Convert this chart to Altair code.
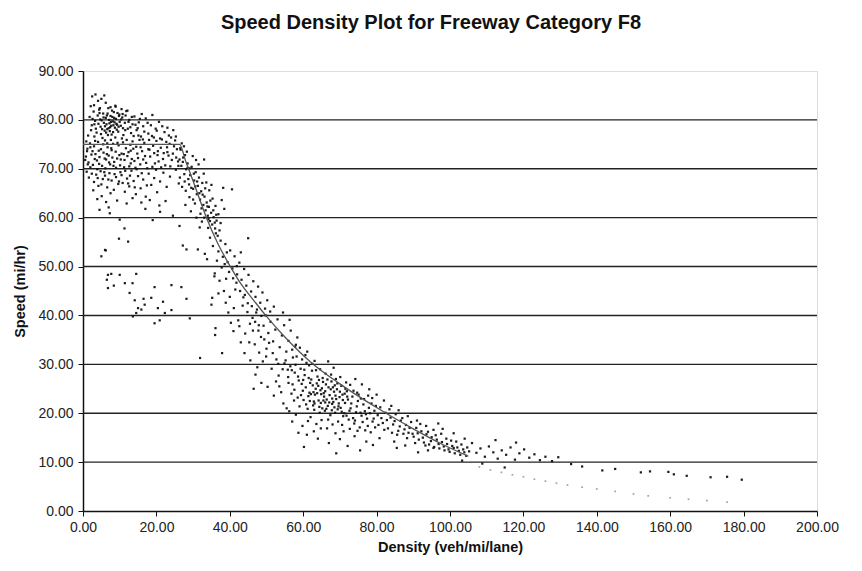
import altair as alt
import pandas as pd

TITLE = "Speed Density Plot for Freeway Category F8"
X_TITLE = "Density (veh/mi/lane)"
Y_TITLE = "Speed (mi/hr)"
x_ticks = [0, 20, 40, 60, 80, 100, 120, 140, 160, 180, 200]
y_ticks = [0, 10, 20, 30, 40, 50, 60, 70, 80, 90]
grid_speeds = [10, 20, 30, 40, 50, 60, 70, 80]

free_flow_top = [
    (2.5, 84.8), (3.4, 85.2), (4.1, 83.9), (5.0, 84.3), (6.2, 83.5), (3.0, 83.0), (7.5, 82.6),
    (4.6, 82.4), (8.8, 82.9), (10.5, 82.2), (12.1, 81.9), (5.8, 85.0), (2.1, 82.8),
]
free_flow_upper = [
    (1.8, 80.6), (2.4, 78.9), (2.9, 81.7), (3.3, 79.8), (3.7, 77.4), (4.0, 80.9), (4.4, 82.1),
    (4.8, 78.6), (5.1, 79.9), (5.5, 81.3), (5.9, 77.8), (6.2, 80.4), (6.6, 78.1), (6.9, 82.4),
    (7.2, 79.3), (7.5, 80.8), (7.8, 77.0), (8.1, 79.7), (8.4, 81.6), (8.7, 78.4), (9.0, 80.2),
    (9.3, 79.0), (9.6, 77.6), (9.9, 81.1), (10.3, 78.8), (10.7, 80.5), (11.0, 76.9), (11.4, 79.4),
    (11.8, 81.8), (12.2, 78.2), (12.6, 80.0), (13.1, 77.3), (13.5, 79.1), (14.0, 80.7), (14.6, 77.9),
    (15.2, 79.5), (15.8, 76.6), (16.4, 78.7), (17.1, 80.3), (17.8, 77.2), (18.5, 78.9), (19.3, 76.4),
    (20.1, 77.8), (21.0, 76.2), (22.2, 77.5), (23.4, 76.8), (24.6, 77.9), (3.1, 76.6), (2.2, 77.9),
    (5.3, 76.3), (6.8, 76.9), (7.9, 81.9), (8.9, 82.7), (6.4, 79.1), (7.0, 78.3), (7.6, 79.6),
    (8.3, 78.9), (9.2, 78.0), (4.7, 80.1), (5.7, 79.4), (10.0, 79.6), (10.9, 78.3), (11.6, 80.9),
    (12.9, 78.5), (2.6, 80.2), (3.5, 78.2), (14.9, 78.3), (16.0, 81.2), (18.9, 81.0), (20.7, 79.6),
    (13.8, 76.7), (6.0, 78.7), (6.5, 80.9), (7.3, 77.7), (7.7, 78.8), (8.0, 80.6), (8.6, 79.5),
    (9.4, 81.4), (9.7, 78.6), (10.4, 80.1), (8.2, 77.5), (6.3, 77.4), (7.1, 80.0), (5.2, 78.1),
    (4.2, 79.2), (3.1, 79.1), (4.5, 81.4), (5.6, 80.5), (6.7, 81.3), (7.4, 78.5), (8.5, 80.4),
    (9.1, 79.2), (9.8, 80.8), (10.8, 81.2), (11.5, 77.9), (12.4, 79.6), (13.3, 80.6), (14.3, 79.0),
    (15.5, 80.2), (16.7, 77.6), (17.6, 79.4), (19.8, 78.2), (21.6, 78.7), (23.0, 78.4), (25.3, 76.6),
]
free_flow_middle = [
    (0.8, 72.5), (1.2, 74.1), (1.5, 71.3), (1.9, 75.2), (2.3, 72.9), (2.7, 70.8), (3.0, 74.6),
    (3.4, 73.0), (3.8, 71.7), (4.1, 75.5), (4.5, 72.4), (4.9, 74.0), (5.2, 70.6), (5.6, 73.3),
    (6.0, 75.8), (6.3, 71.9), (6.7, 74.4), (7.0, 72.7), (7.4, 70.9), (7.8, 73.8), (8.2, 75.1),
    (8.5, 71.4), (8.9, 73.5), (9.3, 72.1), (9.7, 74.8), (10.1, 70.7), (10.5, 73.1), (10.9, 75.4),
    (11.3, 71.8), (11.7, 74.2), (12.1, 72.6), (12.6, 70.5), (13.0, 73.7), (13.5, 75.6), (14.0, 71.6),
    (14.5, 74.5), (15.0, 72.2), (15.6, 70.9), (16.1, 73.6), (16.7, 75.3), (17.2, 71.2), (17.8, 74.0),
    (18.3, 72.5), (18.9, 70.4), (19.4, 73.2), (20.0, 75.7), (20.6, 71.5), (21.2, 74.3), (21.8, 72.0),
    (22.4, 70.7), (23.0, 73.4), (23.6, 75.1), (24.2, 71.8), (24.8, 74.6), (25.4, 72.3), (26.0, 70.6),
    (26.6, 73.9), (27.2, 71.4), (27.8, 72.8), (28.5, 70.2), (2.0, 70.3), (5.9, 72.1), (7.6, 75.9),
    (9.0, 70.2), (11.1, 73.0), (12.9, 74.9), (14.8, 73.1), (16.4, 71.9), (19.1, 74.7), (21.5, 76.0),
    (23.3, 72.7), (25.1, 75.8), (26.9, 75.2), (24.0, 76.4), (22.7, 75.5), (20.3, 72.8), (18.0, 75.9),
    (15.4, 75.9), (13.3, 72.0), (10.3, 71.9), (8.0, 72.3), (4.3, 73.7), (3.2, 72.0), (6.5, 73.0),
    (1.1, 73.6), (1.4, 76.8), (2.0, 74.4), (2.6, 73.6), (3.3, 75.7), (3.9, 69.9), (4.4, 71.0),
    (4.9, 77.1), (5.5, 75.0), (6.1, 70.1), (6.6, 75.2), (7.1, 71.3), (7.7, 74.2), (8.3, 70.6),
    (8.8, 76.4), (9.4, 75.3), (9.9, 72.8), (10.6, 76.2), (11.2, 70.3), (11.9, 75.9), (12.4, 73.4),
    (13.0, 71.1), (13.7, 74.1), (14.3, 70.2), (15.1, 76.8), (15.7, 74.4), (16.3, 76.0), (16.9, 72.6),
    (17.5, 70.1), (18.1, 73.9), (18.8, 76.7), (19.6, 71.1), (20.4, 73.6), (21.3, 70.3), (22.0, 73.2),
    (22.9, 74.4), (23.8, 70.5), (24.5, 73.1), (25.6, 74.0), (26.3, 71.9), (27.5, 74.6), (1.3, 70.9),
    (0.9, 75.6), (0.6, 71.8),
]
free_flow_lower = [
    (1.0, 69.4), (1.6, 68.2), (2.4, 69.0), (3.0, 67.3), (3.6, 68.8), (4.2, 66.5), (4.8, 69.5),
    (5.4, 67.9), (6.0, 68.6), (6.6, 66.2), (7.2, 69.1), (7.8, 67.6), (8.4, 65.7), (9.0, 68.3),
    (9.6, 66.9), (10.2, 69.3), (10.8, 67.1), (11.4, 65.3), (12.0, 68.0), (12.6, 66.4), (13.2, 69.6),
    (13.8, 67.5), (14.4, 64.8), (15.0, 68.5), (15.7, 66.0), (16.4, 67.8), (17.1, 64.3), (17.9, 69.0),
    (18.6, 66.7), (19.4, 68.1), (20.2, 65.2), (21.0, 67.4), (21.9, 69.2), (22.8, 66.3), (23.7, 68.4),
    (5.1, 64.4), (6.3, 63.2), (7.5, 65.0), (3.9, 63.8), (9.3, 63.5), (11.9, 62.9), (13.5, 64.0),
    (15.9, 63.1), (2.8, 65.6), (4.5, 61.6), (7.0, 62.1), (18.2, 63.6), (20.8, 62.5), (12.3, 67.0),
    (14.1, 66.2), (10.5, 68.7), (4.0, 68.1), (5.0, 66.8), (5.8, 69.3), (6.9, 67.8), (8.6, 68.9),
    (9.8, 67.4), (11.5, 69.6), (12.8, 68.6), (14.6, 69.9), (16.0, 69.1), (17.4, 66.6), (19.9, 69.8),
]
breakdown = [
    (25.3, 69.8), (25.9, 71.5), (26.4, 68.2), (26.8, 70.6), (27.3, 72.3), (27.7, 67.4), (28.1, 69.9),
    (28.5, 71.1), (28.9, 66.8), (29.2, 68.7), (29.6, 70.4), (30.0, 65.9), (30.3, 67.6), (30.7, 69.3),
    (31.0, 64.8), (31.3, 66.5), (31.6, 68.2), (31.9, 63.7), (32.2, 65.4), (32.5, 67.1), (32.8, 62.6),
    (33.1, 64.3), (33.4, 61.5), (33.7, 63.1), (34.0, 60.4), (34.3, 62.2), (34.6, 59.3), (34.9, 61.0),
    (35.2, 58.6), (35.6, 60.1), (36.0, 57.8), (36.4, 59.4), (29.0, 64.2), (30.5, 62.9), (32.0, 60.8),
    (28.0, 65.5), (27.0, 66.3), (26.1, 67.0), (31.5, 70.9), (32.9, 69.0), (33.6, 67.2), (34.4, 65.6),
    (35.3, 63.9), (36.1, 62.4), (36.9, 60.7), (37.5, 58.9), (29.9, 72.6), (30.8, 71.8), (28.3, 73.5),
    (26.5, 74.2), (33.0, 71.9), (35.0, 66.7), (37.8, 63.6), (38.5, 61.8), (34.1, 57.9), (32.4, 59.2),
    (30.9, 60.0), (36.7, 56.3), (27.9, 62.6), (29.4, 61.3), (40.6, 65.8), (38.2, 66.1), (31.8, 58.0),
    (27.6, 68.9), (28.7, 67.9), (29.5, 66.1), (30.2, 69.0), (31.1, 67.4), (31.7, 65.0), (32.6, 64.7),
    (33.3, 66.0), (33.9, 62.3), (34.7, 63.5), (35.5, 61.5), (36.3, 60.6), (30.0, 63.7), (32.3, 61.9),
    (34.2, 59.7), (35.9, 59.0), (37.2, 57.4), (29.0, 70.1), (30.6, 66.4), (33.0, 60.0),
]
low_speed_outliers = [
    (7.3, 60.9), (10.0, 59.6), (11.3, 57.8), (9.8, 55.7), (6.2, 53.3), (5.0, 52.1), (27.2, 54.3),
    (28.2, 53.5), (31.3, 53.5), (33.2, 52.6), (33.8, 51.5), (6.8, 48.3), (7.7, 48.5), (10.0, 48.3),
    (14.5, 48.5), (6.5, 47.3), (6.8, 45.6), (8.4, 46.1), (11.4, 46.6), (13.5, 46.6), (12.7, 44.6),
    (14.1, 43.1), (15.0, 41.5), (15.9, 41.2), (16.8, 42.2), (14.5, 40.5), (13.6, 39.8), (16.5, 43.4),
    (18.6, 43.6), (19.5, 45.8), (21.8, 42.8), (24.1, 46.2), (26.8, 45.8), (28.2, 43.4), (24.1, 41.1),
    (22.3, 40.5), (20.4, 41.5), (19.5, 38.4), (20.9, 39.0), (29.1, 39.4), (36.1, 37.4), (35.0, 42.2),
    (35.2, 43.6), (35.9, 48.6), (6.0, 53.4), (12.3, 55.1), (21.0, 61.2), (24.5, 60.4), (26.3, 58.3),
    (19.0, 59.5), (17.0, 61.8), (22.5, 63.4), (31.9, 31.3), (37.9, 32.3), (36.0, 36.0),
]
transition = [
    (34.6, 55.9), (35.4, 54.2), (36.2, 56.8), (36.9, 53.1), (37.5, 55.3), (38.1, 52.0), (38.8, 54.6),
    (39.4, 50.9), (40.1, 53.3), (40.7, 49.6), (41.3, 52.1), (42.0, 48.4), (42.6, 50.8), (43.2, 47.3),
    (43.9, 49.5), (44.5, 46.1), (45.1, 48.3), (45.8, 44.9), (46.4, 47.0), (47.0, 43.8), (47.7, 45.9),
    (48.3, 42.6), (48.9, 44.7), (49.6, 41.4), (45.0, 55.8), (43.0, 52.9), (39.0, 47.5), (37.8, 49.8),
    (36.5, 51.2), (41.5, 45.3), (40.0, 43.8), (43.5, 42.0), (44.8, 40.7), (46.2, 39.5), (42.3, 39.0),
    (39.6, 40.6), (47.4, 41.2), (48.6, 39.9), (50.2, 43.1), (51.0, 40.8), (44.1, 44.2), (38.4, 45.0),
    (35.8, 48.0), (36.9, 44.5), (41.0, 36.8), (45.5, 38.3), (46.3, 36.9), (47.2, 40.6), (47.9, 38.0),
    (48.5, 35.6), (49.2, 37.9), (49.8, 40.0), (50.5, 36.4), (51.1, 38.7), (51.8, 34.7), (52.4, 37.1),
    (53.0, 39.2), (53.6, 33.5), (54.2, 35.9), (54.8, 38.0), (55.4, 32.6), (56.0, 34.8), (56.6, 36.9),
    (57.2, 31.4), (57.8, 33.6), (58.4, 35.5), (50.0, 33.2), (48.0, 32.4), (46.8, 34.1), (52.7, 31.0),
    (54.9, 30.2), (51.4, 29.1), (49.0, 30.6), (55.8, 28.9), (53.3, 27.7), (44.2, 36.3), (43.0, 34.5),
    (47.5, 29.4), (52.0, 41.8), (54.5, 40.6), (56.3, 39.1), (44.0, 32.3), (45.6, 30.8), (47.0, 27.9),
    (48.6, 26.2), (50.3, 25.4), (52.0, 23.6), (46.5, 25.0), (38.6, 50.5), (39.8, 48.9), (40.9, 47.6),
    (41.8, 46.7), (42.8, 45.0), (43.7, 43.7), (44.9, 42.5), (46.0, 41.9), (46.9, 38.7), (47.8, 36.9),
    (49.4, 35.1), (50.7, 34.4), (51.7, 32.3), (53.2, 30.1), (54.4, 29.0), (49.9, 31.6), (45.3, 34.5),
    (42.6, 37.8), (41.1, 41.5), (40.3, 38.5), (38.9, 42.6), (37.2, 47.1), (39.2, 52.9), (41.9, 50.1),
]
congested = [
    (55.2, 30.8), (55.9, 27.4), (56.5, 29.6), (57.1, 25.9), (57.7, 28.3), (58.2, 31.6), (58.8, 26.7),
    (59.3, 29.1), (59.9, 24.6), (60.4, 27.8), (60.9, 30.3), (61.4, 23.5), (61.9, 26.2), (62.4, 28.7),
    (62.9, 22.4), (63.4, 25.0), (63.9, 27.5), (64.4, 21.3), (64.9, 23.9), (65.4, 26.4), (65.9, 20.5),
    (66.4, 22.8), (66.9, 25.3), (67.4, 19.6), (67.9, 21.9), (68.4, 24.4), (68.9, 27.0), (69.4, 20.8),
    (69.9, 23.3), (70.4, 25.6), (70.9, 19.4), (71.4, 22.1), (71.9, 24.5), (72.4, 18.7), (72.9, 21.0),
    (73.4, 23.4), (73.9, 17.9), (74.4, 20.2), (74.9, 22.5), (75.4, 17.1), (75.9, 19.5), (76.4, 21.8),
    (76.9, 16.5), (77.4, 18.9), (77.9, 21.1), (78.4, 16.1), (78.9, 18.3), (79.4, 20.5), (58.5, 23.2),
    (59.0, 21.4), (59.6, 26.0), (60.1, 22.7), (60.7, 25.3), (61.2, 20.9), (61.7, 24.2), (62.2, 26.9),
    (62.7, 21.6), (63.2, 23.8), (63.7, 26.1), (64.2, 22.6), (64.7, 24.7), (65.2, 21.0), (65.7, 23.4),
    (66.2, 25.9), (66.7, 21.5), (67.2, 23.7), (67.7, 26.5), (68.2, 22.3), (68.7, 20.1), (69.2, 24.9),
    (69.7, 22.0), (70.2, 21.1), (70.7, 23.8), (71.2, 20.0), (71.7, 26.3), (72.2, 22.8), (60.3, 28.9),
    (61.6, 29.8), (63.1, 30.7), (64.6, 29.0), (66.1, 28.1), (67.6, 27.9), (62.0, 19.2), (63.6, 17.8),
    (65.0, 18.6), (66.5, 16.9), (68.0, 17.7), (69.5, 18.3), (71.0, 16.3), (57.5, 22.6), (56.8, 24.0),
    (58.0, 19.7), (59.8, 17.4), (61.0, 15.6), (64.0, 14.8), (67.0, 13.9), (60.2, 13.1), (70.0, 14.7),
    (62.8, 24.3), (64.1, 25.6), (65.6, 24.1), (66.0, 22.2), (64.5, 20.1), (63.0, 20.7), (61.8, 22.5),
    (67.9, 23.0), (69.0, 22.9), (65.3, 27.2), (63.5, 28.8), (62.5, 30.1), (60.6, 31.9), (59.1, 33.4),
    (57.9, 29.9), (68.6, 25.7), (70.1, 27.4), (71.5, 25.0), (72.8, 25.8), (73.6, 19.0), (74.7, 24.2),
    (75.7, 23.0), (76.8, 20.4), (77.7, 23.6), (78.6, 22.0), (79.6, 17.1), (80.3, 19.6), (81.0, 21.2),
    (81.7, 18.0), (82.4, 20.1), (83.1, 16.9), (83.8, 19.1), (84.5, 17.7), (85.2, 19.8), (85.9, 16.4),
    (86.6, 18.5), (87.3, 15.8), (88.0, 17.6), (88.7, 16.0), (89.4, 18.2), (90.1, 15.2), (90.8, 17.0),
    (91.5, 14.6), (92.2, 16.3), (92.9, 14.0), (93.6, 15.7), (94.3, 13.6), (95.0, 15.1), (95.7, 13.1),
    (96.4, 14.6), (97.1, 12.8), (97.8, 14.1), (98.5, 12.4), (99.2, 13.7), (99.9, 12.1), (100.6, 13.3),
    (101.3, 11.8), (102.0, 13.0), (102.8, 11.5), (103.6, 12.6), (104.4, 11.3), (105.2, 12.2),
    (82.0, 22.6), (84.0, 21.5), (86.0, 20.6), (80.0, 23.8), (78.0, 24.9), (76.0, 25.9), (74.2, 27.0),
    (88.5, 19.4), (91.0, 18.5), (93.5, 17.4), (95.5, 16.6), (80.8, 14.9), (77.2, 14.2), (74.0, 15.3),
    (72.1, 13.3), (84.8, 14.2), (87.8, 13.4), (69.0, 11.8), (57.0, 18.3), (55.5, 21.0), (54.0, 24.3),
    (52.6, 26.5), (66.8, 30.6), (68.3, 29.3), (85.5, 12.9), (91.3, 12.0), (79.0, 13.5), (75.5, 12.4),
    (56.0, 26.2), (56.9, 28.8), (57.6, 24.8), (58.6, 27.5), (59.4, 23.7), (60.0, 26.8), (60.8, 21.8),
    (61.5, 27.2), (62.1, 23.9), (62.6, 25.7), (63.1, 22.0), (63.8, 24.1), (64.3, 26.8), (64.8, 22.1),
    (65.1, 25.1), (65.5, 22.6), (66.0, 24.5), (66.3, 20.9), (66.6, 26.9), (67.1, 22.2), (67.5, 24.9),
    (67.8, 20.6), (68.1, 25.3), (68.5, 21.2), (68.8, 23.6), (69.3, 26.1), (69.6, 21.4), (70.0, 24.4),
    (70.5, 20.3), (70.8, 22.7), (71.3, 24.0), (71.8, 19.5), (72.0, 23.4), (72.6, 20.5), (73.1, 22.0),
    (73.7, 24.6), (74.1, 18.5), (74.6, 21.4), (75.1, 23.8), (75.6, 20.1), (76.2, 18.2), (76.6, 22.9),
    (77.1, 19.8), (77.6, 17.4), (78.2, 20.0), (78.8, 23.1), (79.2, 18.9), (79.8, 21.5), (80.5, 17.6),
    (81.3, 19.0), (82.1, 16.6), (82.8, 18.6), (83.5, 20.8), (84.2, 16.0), (84.9, 18.4), (85.6, 15.6),
    (86.3, 17.3), (87.0, 19.0), (87.6, 16.7), (88.3, 14.9), (89.0, 17.0), (89.8, 15.8), (90.5, 13.9),
    (91.2, 15.9), (91.9, 17.8), (92.6, 15.0), (93.3, 13.4), (94.0, 16.2), (94.8, 14.3), (95.5, 12.9),
    (96.1, 15.5), (96.9, 13.7), (97.6, 15.8), (98.3, 13.2), (99.0, 14.8), (99.6, 12.6), (100.3, 14.4),
    (101.0, 12.9), (101.7, 14.2), (102.4, 12.3), (103.1, 13.6), (103.9, 12.0), (104.7, 13.0),
    (61.3, 18.4), (62.9, 16.3), (64.8, 16.9), (66.8, 18.7), (68.8, 15.9), (70.6, 17.6), (72.7, 16.8),
    (74.8, 16.4), (58.7, 16.0), (56.2, 20.4), (54.6, 22.0), (53.5, 25.5), (59.7, 31.0), (61.1, 32.6),
    (57.0, 33.0), (58.0, 34.0),
]
tail = [
    (106.0, 13.9), (107.2, 11.9), (108.3, 12.8), (109.5, 11.1), (110.6, 13.2), (111.8, 12.0),
    (113.0, 10.7), (114.1, 12.4), (115.3, 11.5), (116.5, 13.0), (117.7, 10.5), (118.9, 11.8),
    (120.2, 12.6), (121.6, 10.9), (123.0, 11.6), (124.5, 10.4), (126.0, 11.1), (127.8, 10.2),
    (129.5, 11.0), (112.4, 14.5), (118.0, 14.0), (104.0, 14.8), (101.0, 15.9), (98.0, 16.8),
    (96.8, 17.9), (94.0, 12.4), (108.8, 9.7), (114.9, 8.9), (103.3, 10.3), (133.0, 9.6),
    (136.0, 9.1), (141.5, 8.3), (145.0, 8.6), (152.0, 7.9), (154.5, 8.1), (159.5, 8.0),
    (161.0, 7.5), (164.5, 7.2), (171.0, 6.9), (175.5, 7.0), (179.5, 6.4),
]
# faint points continuing below the fitted curve
faint_points = [
    (108.0, 9.0), (111.0, 8.4), (114.0, 7.9), (117.0, 7.4), (120.0, 7.0), (123.0, 6.5), (126.0, 6.1),
    (129.0, 5.7), (132.0, 5.3), (136.0, 4.9), (140.0, 4.5), (145.0, 4.0), (150.0, 3.5), (154.0, 3.1),
    (160.0, 2.7), (165.0, 2.4), (170.0, 2.1), (175.5, 1.8),
]
# fitted speed-density curve
fit_density = [0, 26.3, 28, 30, 32, 34, 37, 40, 43, 46.5, 50, 55, 62, 70, 81, 90, 98, 105]
fit_speed = [75, 75, 71.5, 67.5, 63.3, 59.3, 54.3, 50.2, 46.5, 43.1, 39.8, 35.6, 30.5, 26.0, 20.7, 16.8, 13.6, 11.2]

observed = (free_flow_top + free_flow_upper + free_flow_middle + free_flow_lower + breakdown
            + low_speed_outliers + transition + congested + tail)
df_obs = pd.DataFrame(observed, columns=["density", "speed"])
df_faint = pd.DataFrame(faint_points, columns=["density", "speed"])
df_fit = pd.DataFrame({"density": fit_density, "speed": fit_speed})
df_grid = pd.DataFrame({"speed": grid_speeds})

FONT = "Liberation Sans"
x_scale = alt.Scale(domain=[0, 200], nice=False, zero=False)
y_scale = alt.Scale(domain=[0, 90], nice=False, zero=False)

x_axis = alt.Axis(values=x_ticks, format=".2f", title=X_TITLE, grid=False, labelFlush=False,
                  domainColor="#111", domainWidth=1.5, tickColor="#111", tickSize=5,
                  labelFont=FONT, labelFontSize=14, labelColor="#222", labelPadding=4,
                  titleFont=FONT, titleFontSize=14.5, titleFontWeight="bold", titleColor="#111",
                  titlePadding=6)
y_axis = alt.Axis(values=y_ticks, format=".2f", title=Y_TITLE, grid=False, labelFlush=False,
                  domainColor="#111", domainWidth=1.5, tickColor="#111", tickSize=5,
                  labelFont=FONT, labelFontSize=14, labelColor="#222", labelPadding=5,
                  titleFont=FONT, titleFontSize=14.5, titleFontWeight="bold", titleColor="#111",
                  titlePadding=10)

grid = alt.Chart(df_grid).mark_rule(color="#222", strokeWidth=1.4).encode(
    y=alt.Y("speed:Q", scale=y_scale, axis=y_axis),
)

points = alt.Chart(df_obs).mark_square(size=5, color="#111111", opacity=0.95).encode(
    x=alt.X("density:Q", scale=x_scale, axis=x_axis),
    y=alt.Y("speed:Q", scale=y_scale, axis=y_axis),
)

faint = alt.Chart(df_faint).mark_square(size=3, color="#9a9a9a", opacity=0.9).encode(
    x=alt.X("density:Q", scale=x_scale),
    y=alt.Y("speed:Q", scale=y_scale),
)

fit = alt.Chart(df_fit).mark_line(color="#555555", strokeWidth=1.3, interpolate="monotone").encode(
    x=alt.X("density:Q", scale=x_scale),
    y=alt.Y("speed:Q", scale=y_scale),
)

chart = alt.layer(grid, points, faint, fit).properties(
    width=734,
    height=440,
    title=alt.TitleParams(TITLE, font=FONT, fontSize=20, fontWeight="bold", color="#111",
                          anchor="middle", offset=31, dx=-19),
    autosize=alt.AutoSizeParams(type="none"),
    padding={"left": 83, "top": 71, "right": 45, "bottom": 60},
).configure_view(
    stroke="#777", strokeWidth=1, strokeDash=[1, 2]
).configure(background="white")

chart.save("out.html", embed_options={"renderer": "svg", "actions": False})
